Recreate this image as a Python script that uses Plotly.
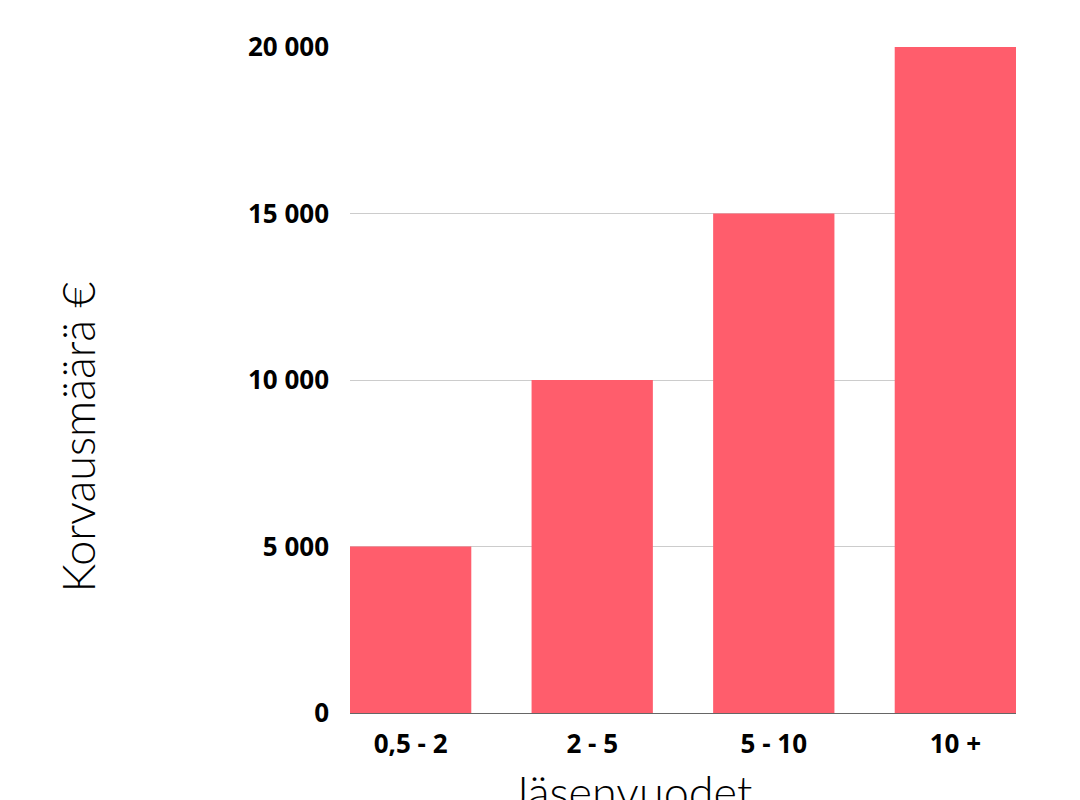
import plotly.graph_objects as go

categories = ["0,5 - 2", "2 - 5", "5 - 10", "10 +"]
values = [5000, 10000, 15000, 20000]
y_tickvals = [0, 5000, 10000, 15000, 20000]
y_ticktext = ["0", "5 000", "10 000", "15 000", "20 000"]
x_title = "Jäsenvuodet"
y_title = "Korvausmäärä €"

fig = go.Figure(go.Bar(x=categories, y=values, marker_color="#FF5D6C", marker_line_width=0))

fig.update_layout(
    width=1080, height=800,
    margin=dict(l=342, r=72, t=39, b=95),
    plot_bgcolor="white", paper_bgcolor="white",
    bargap=0.332,
    showlegend=False,
    font=dict(family="Open Sans", color="black"),
)
fig.update_xaxes(
    type="category", range=[-0.334, 3.334],
    showline=True, linecolor="#666666", linewidth=1,
    showgrid=False, ticks="",
    tickfont=dict(family="Open Sans", size=26, weight="bold", color="black"),
    ticklabelstandoff=8,
)
fig.update_yaxes(
    range=[0, 20000], tickvals=y_tickvals, ticktext=y_ticktext,
    showgrid=True, gridcolor="#CCCCCC", gridwidth=1, zeroline=False,
    ticks="",
    tickfont=dict(family="Open Sans", size=26, weight="bold", color="black"),
    ticklabelstandoff=20,
)
fig.add_annotation(text=y_title, xref="paper", yref="paper", x=-0.408, y=0.414,
                   textangle=-90, showarrow=False, xanchor="center", yanchor="middle",
                   font=dict(family="Lato", size=45, weight=300, color="black"))
fig.add_annotation(text=x_title, xref="paper", yref="paper", x=0.422, y=-0.118,
                   showarrow=False, xanchor="center", yanchor="middle",
                   font=dict(family="Lato", size=45, weight=300, color="black"))

fig.write_html("out.html")
